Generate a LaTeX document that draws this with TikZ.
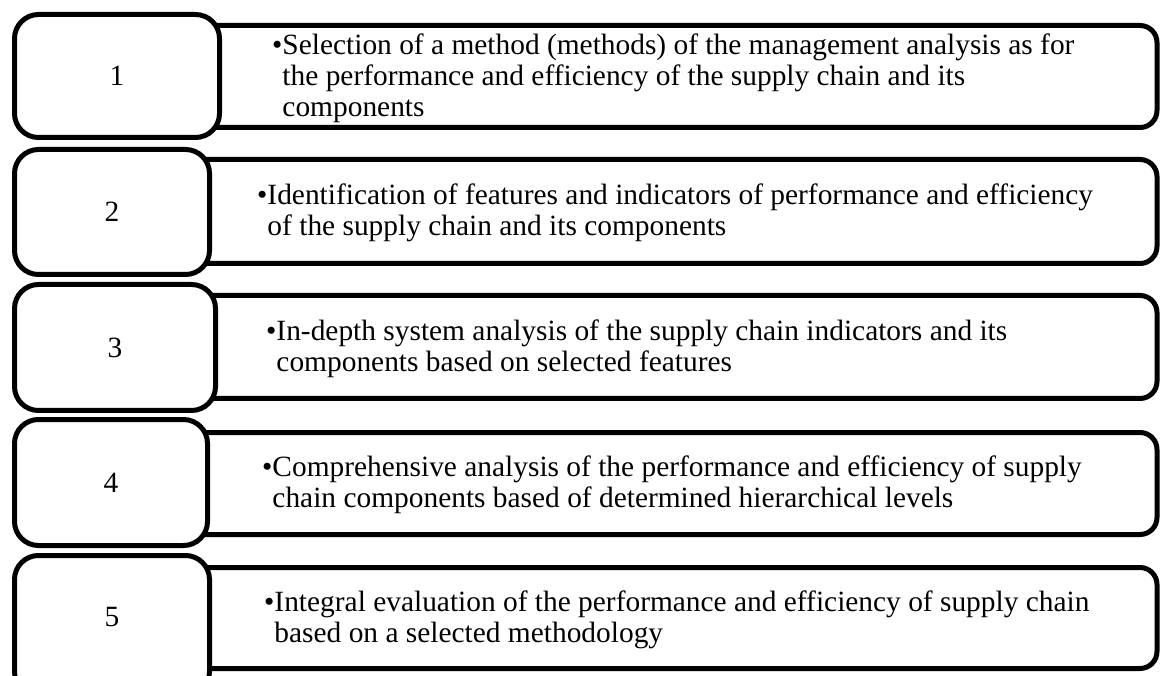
\documentclass[tikz,border=0pt]{standalone}
\usepackage{fontspec}
\setmainfont{Liberation Serif}
\begin{document}
\begin{tikzpicture}[x=1pt,y=-1pt,
  numbox/.style={draw=black,line width=5pt,rounded corners=24pt,fill=white,
    inner sep=0pt,font=\fontsize{29.4}{31}\selectfont},
  stagebox/.style={draw=black,line width=5pt,rounded corners=17pt,fill=white,inner sep=0pt},
  stagetext/.style={anchor=west,align=left,inner sep=0pt,font=\fontsize{29.4}{31}\selectfont}]
\clip (0,0) rectangle (1160,676);
\fill[white] (0,0) rectangle (1160,676);
% long boxes holding the step descriptions
\node[stagebox,minimum width=1007pt,minimum height=102pt] (t1) at (653.5,76.5) {};
\node[stagebox,minimum width=1007pt,minimum height=104pt] (t2) at (653.5,211.5) {};
\node[stagebox,minimum width=1007pt,minimum height=103pt] (t3) at (653.5,347) {};
\node[stagebox,minimum width=1007pt,minimum height=102pt] (t4) at (653.5,483.5) {};
\node[stagebox,minimum width=1007pt,minimum height=101pt] (t5) at (653.5,618) {};
% numbered step boxes on the left
\node[numbox,minimum width=205pt,minimum height=123pt] (n1) at (117,76) {1};
\node[numbox,minimum width=195pt,minimum height=125pt] (n2) at (112,212) {2};
\node[numbox,minimum width=201pt,minimum height=126pt] (n3) at (115,347.5) {3};
\node[numbox,minimum width=193pt,minimum height=126pt] (n4) at (111,482.5) {4};
\node[numbox,minimum width=195pt,minimum height=140pt] (n5box) at (112,625.5) {};
\node[font=\fontsize{29.4}{31}\selectfont,inner sep=0pt] (n5) at (112,617) {5};
% step descriptions
\node[stagetext] (d1) at (272,78) {\textbullet Selection of a method (methods) of the management analysis as for\\
  \phantom{\textbullet}the performance and efficiency of the supply chain and its\\
  \phantom{\textbullet}components};
\node[stagetext] (d2) at (257,212.5) {\textbullet Identification of features and indicators of performance and efficiency\\
  \phantom{\textbullet}of the supply chain and its components};
\node[stagetext] (d3) at (266,349) {\textbullet In-depth system analysis of the supply chain indicators and its\\
  \phantom{\textbullet}components based on selected features};
\node[stagetext] (d4) at (262,485) {\textbullet Comprehensive analysis of the performance and efficiency of supply\\
  \phantom{\textbullet}chain components based of determined hierarchical levels};
\node[stagetext] (d5) at (264,620) {\textbullet Integral evaluation of the performance and efficiency of supply chain\\
  \phantom{\textbullet}based on a selected methodology};
\end{tikzpicture}
\end{document}
